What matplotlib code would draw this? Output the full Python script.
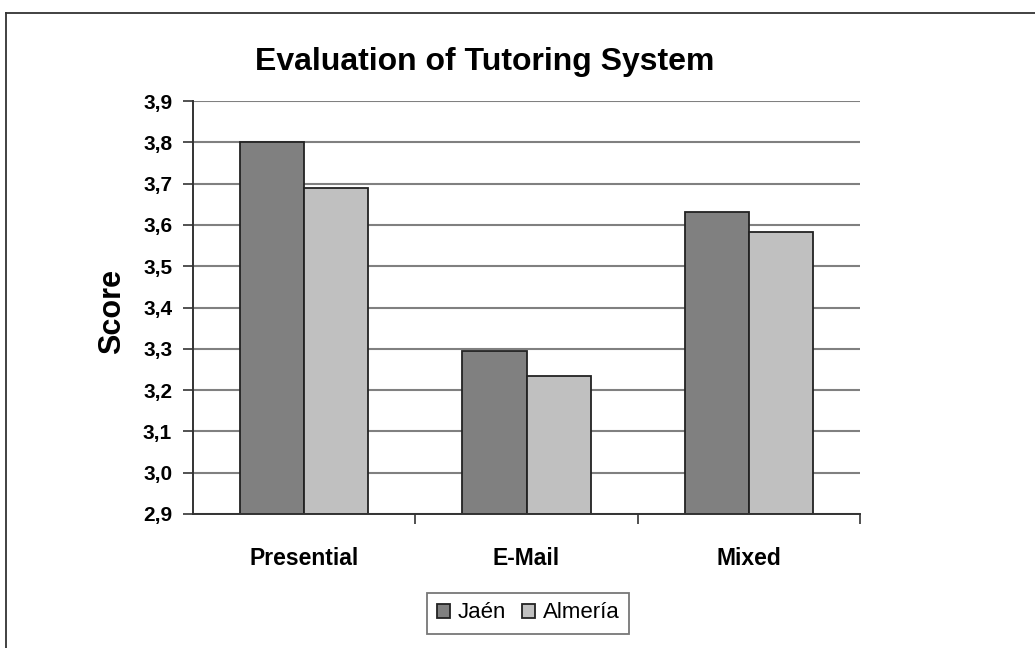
import matplotlib
matplotlib.use("Agg")
import matplotlib.pyplot as plt
import numpy as np
from matplotlib.lines import Line2D
from matplotlib.ticker import FuncFormatter

categories = ["Presential", "E-Mail", "Mixed"]
series_names = ["Jaén", "Almería"]
jaen = [3.80, 3.294, 3.632]
almeria = [3.689, 3.234, 3.582]
yticks = [2.9, 3.0, 3.1, 3.2, 3.3, 3.4, 3.5, 3.6, 3.7, 3.8, 3.9]

plt.rcParams['font.family'] = ['Liberation Sans', 'DejaVu Sans']

W, H = 1035, 648
fig = plt.figure(figsize=(W / 100, H / 100), dpi=100)
ax = fig.add_axes([193 / W, 1 - 514 / H, (860 - 193) / W, (514 - 101) / H])

x = np.arange(len(categories))
bw = 0.288
edge = '#222222'
ax.bar(x - bw / 2, np.array(jaen) - 2.9, bw, bottom=2.9, color='#808080',
       edgecolor=edge, linewidth=1.3, label=series_names[0], zorder=3)
ax.bar(x + bw / 2, np.array(almeria) - 2.9, bw, bottom=2.9, color='#c0c0c0',
       edgecolor=edge, linewidth=1.3, label=series_names[1], zorder=3)

ax.set_xlim(-0.5, 2.5)
ax.set_ylim(2.9, 3.9)
ax.set_yticks(yticks)
ax.yaxis.set_major_formatter(FuncFormatter(lambda v, p: f"{v:.1f}".replace('.', ',')))
ax.grid(axis='y', color='#808080', linewidth=1.5, zorder=0)
for s in ['top', 'right']:
    ax.spines[s].set_visible(False)
for s in ['left', 'bottom']:
    ax.spines[s].set_color('#333333')
    ax.spines[s].set_linewidth(1.4)
    ax.spines[s].set_zorder(4)

ax.tick_params(axis='y', length=7, width=1.2, color='#333333', labelsize=15, pad=8)
ax.tick_params(axis='x', which='major', length=0, labelsize=16.5, pad=24)
ax.set_xticks(x)
ax.set_xticklabels(categories, fontweight='bold')
for lab in ax.get_yticklabels():
    lab.set_fontweight('bold')
ax.set_xticks([0.5, 1.5, 2.5], minor=True)
ax.tick_params(axis='x', which='minor', length=7, width=1.2, color='#333333')

fig.text(112 / W, 1 - 311 / H, "Score", rotation=90, ha='center', va='center',
         fontsize=22, fontweight='bold')
fig.text(485 / W, 1 - 70 / H, "Evaluation of Tutoring System", ha='center', va='baseline',
         fontsize=23, fontweight='bold')

leg = ax.legend(loc='center', bbox_to_anchor=(528 / W, 1 - 613 / H),
                bbox_transform=fig.transFigure, ncol=2, frameon=True, fancybox=False,
                fontsize=16, handlelength=0.6, handleheight=0.6, handletextpad=0.35,
                columnspacing=0.7, borderpad=0.45)
leg.get_frame().set_edgecolor('#555555')
leg.get_frame().set_linewidth(1.3)

# outer frame
fig.add_artist(Line2D([6 / W, 1], [1 - 13 / H, 1 - 13 / H], transform=fig.transFigure,
                      color='#333333', linewidth=1.3))
fig.add_artist(Line2D([6 / W, 6 / W], [0, 1 - 13 / H], transform=fig.transFigure,
                      color='#333333', linewidth=1.3))

fig.savefig("out.png", dpi=100)
